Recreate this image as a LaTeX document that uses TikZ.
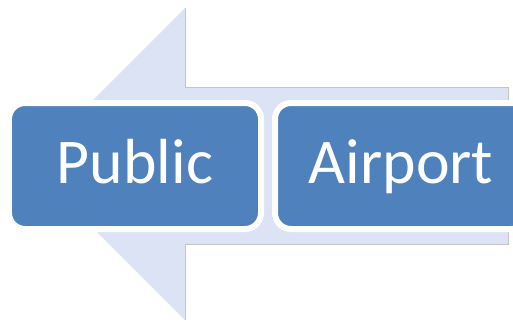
\documentclass[tikz,border=0pt]{standalone}
\usepackage{fontspec}
\setmainfont{Carlito}
\definecolor{boxblue}{HTML}{4F81BD}
\definecolor{arrowfill}{HTML}{DCE3F4}
\definecolor{edgegrey}{HTML}{C4C4C4}
\begin{document}
\begin{tikzpicture}[x=1bp,y=-1bp,
  stagebox/.style={rectangle, rounded corners=16bp, fill=boxblue, draw=white, line width=6bp,
    minimum width=252bp, minimum height=126bp, inner sep=0pt, text=white,
    text height=41bp, text depth=6bp,
    font=\fontsize{64}{70}\selectfont}]
\useasboundingbox (0,0) rectangle (513,321);
\clip (0,0) rectangle (513,321);
% big arrow
\fill[arrowfill] (508,87) -- (185,87) -- (185,8) -- (29,164) -- (185,320) -- (185,244) -- (508,244) -- cycle;
\draw[edgegrey, line width=1bp] (185,8) -- (185,87) -- (508,87) -- (508,244) -- (185,244) -- (185,320);
% boxes
\node[stagebox] (pub) at (135,166) {Public};
\node[stagebox] (air) at (401,166) {Airport};
\end{tikzpicture}
\end{document}
